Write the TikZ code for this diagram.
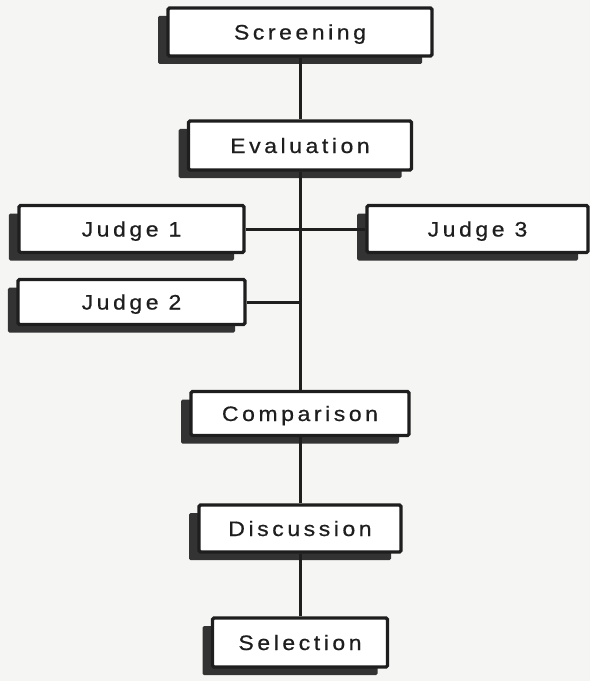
\documentclass[tikz,border=0pt]{standalone}
\usepackage{fontspec}
\newfontfamily\stagefont{Liberation Sans}[LetterSpace=17,FakeStretch=1.1,FakeBold=0.6]
\usetikzlibrary{shadows}
\definecolor{inkgray}{HTML}{1E1E1E}
\definecolor{shadowgray}{HTML}{333333}
\definecolor{paper}{HTML}{F5F5F3}

\begin{document}
\begin{tikzpicture}[x=1bp,y=-1bp,
    stage/.style={draw=inkgray, line width=3.2bp, fill=white, rounded corners=1.5bp,
      minimum height=47bp, inner sep=0pt, text=inkgray,
      font=\stagefont\fontsize{21}{24}\selectfont, text height=15bp, text depth=0pt,
      drop shadow={shadow xshift=-10bp, shadow yshift=-8bp, fill=shadowgray, opacity=1}},
    link/.style={draw=inkgray, line width=3bp}]
    \fill[paper] (0,0) rectangle (590,681);
    \useasboundingbox (0,0) rectangle (590,681);
    % stages on the main line
    \node[stage, minimum width=264bp, minimum height=48bp] (screening) at (300,32) {Screening};
    \node[stage, minimum width=223bp, minimum height=49bp] (evaluation) at (300,145.5) {Evaluation};
    \node[stage, minimum width=218bp, minimum height=44bp] (comparison) at (300,413.5) {Comparison};
    \node[stage, minimum width=202bp] (discussion) at (300,528.5) {Discussion};
    \node[stage, minimum width=175bp, minimum height=49bp] (selection) at (300,642.5) {Selection};
    % judges
    \node[stage, minimum width=225bp] (judge1) at (131.5,229) {Judge 1};
    \node[stage, minimum width=227bp, minimum height=45bp] (judge2) at (131.5,302) {Judge 2};
    \node[stage, minimum width=221bp] (judge3) at (477.5,229) {Judge 3};
    % connectors
    \foreach \from/\to in {screening/evaluation, evaluation/comparison, comparison/discussion, discussion/selection}
    {
        \draw[link] (\from.south) -- (\to.north);
    }
    \foreach \j in {judge1, judge2}
    {
        \draw[link] (\j.east) -- (\j.east -| evaluation.south);
    }
    \draw[link] (judge3.west) -- (judge3.west -| evaluation.south);
\end{tikzpicture}
\end{document}
